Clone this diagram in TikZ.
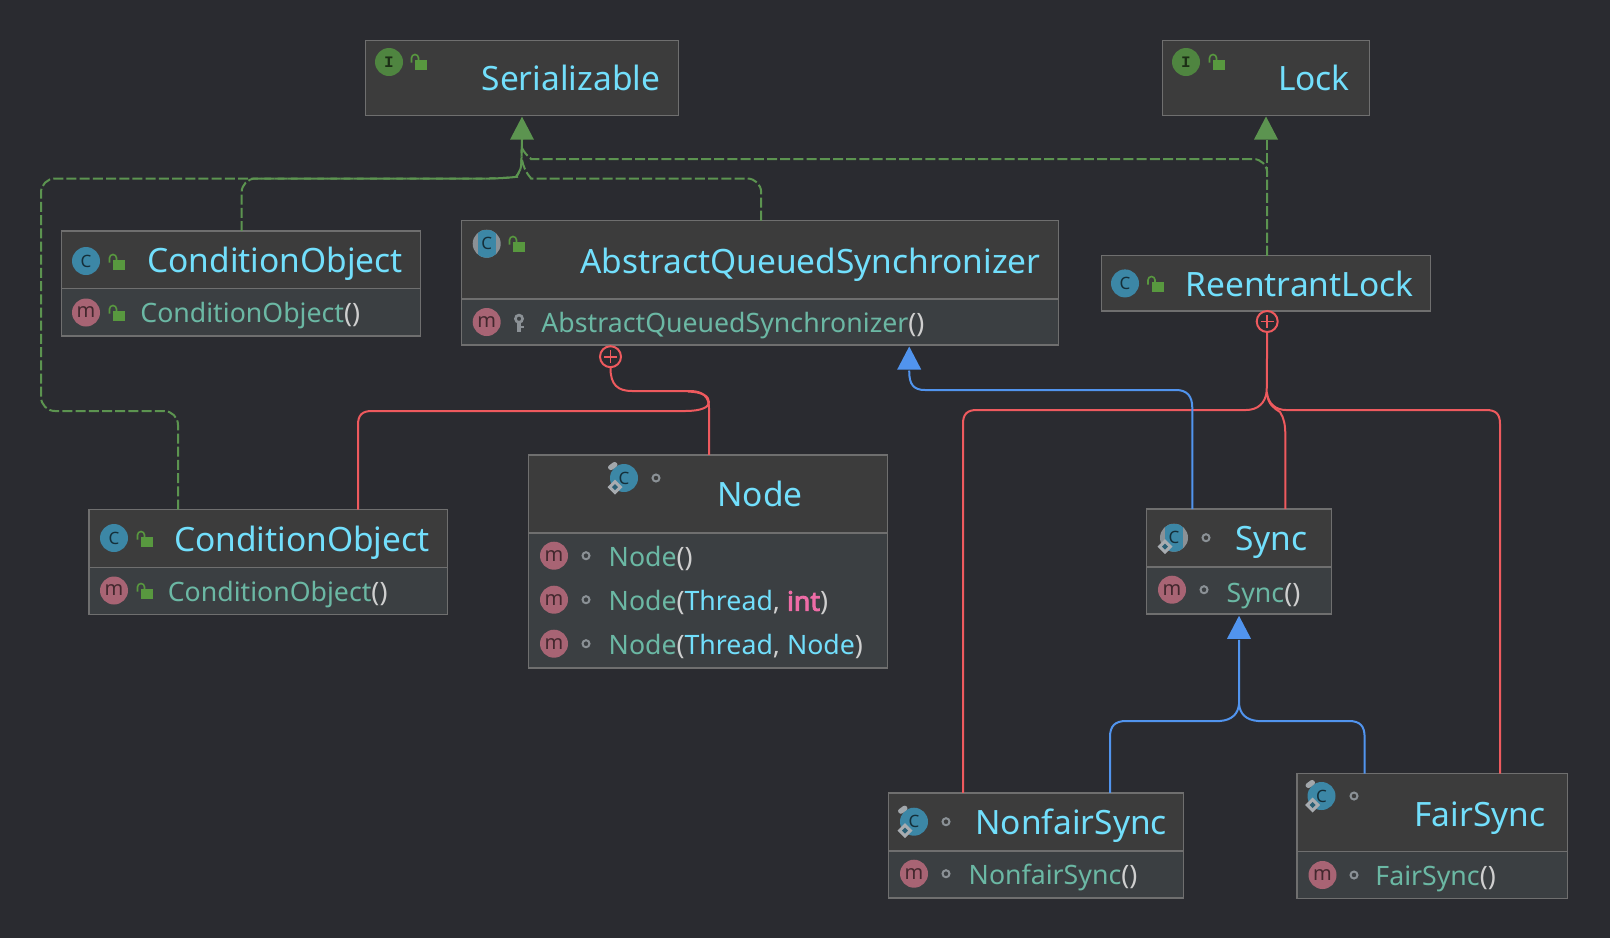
\documentclass[tikz,border=0pt]{standalone}
\usepackage{fontspec}
\setmainfont{Noto Sans}
\newfontfamily\iconmono{Liberation Mono}
\newfontface\intbold{Noto Sans}[FakeBold=3.5]
\usetikzlibrary{calc,arrows.meta}
\definecolor{bgc}{HTML}{2A2B30}
\definecolor{headc}{HTML}{3C3C3C}
\definecolor{membc}{HTML}{3B3F42}
\definecolor{bordc}{HTML}{6F6F6F}
\definecolor{titlec}{HTML}{72DFFC}
\definecolor{methc}{HTML}{6BB8A4}
\definecolor{parc}{HTML}{CFCFCF}
\definecolor{intc}{HTML}{EE6CA6}
\definecolor{redc}{HTML}{EE5A5E}
\definecolor{bluec}{HTML}{5194EE}
\definecolor{greenc}{HTML}{5C9450}
\definecolor{lockc}{HTML}{58983F}
\definecolor{tealc}{HTML}{3C87A6}
\definecolor{igreen}{HTML}{4F8540}
\definecolor{mred}{HTML}{A86474}
\definecolor{grayi}{HTML}{8B9196}
\tikzset{
  ubox/.style={rectangle,draw=bordc,line width=0.75pt,inner sep=0pt,outer sep=0pt},
  title/.style={anchor=base west,inner sep=0pt,text=titlec,xshift=-0.5pt,yshift=-0.25pt,font=\fontsize{16.75pt}{20pt}\selectfont},
  memb/.style={anchor=base west,inner sep=0pt,text=methc,xshift=-0.5pt,yshift=-0.35pt,font=\fontsize{13.35pt}{16pt}\selectfont},
  glyph/.style={inner sep=0pt,font=\fontsize{8.5pt}{10pt}\selectfont},
  dep/.style={draw=greenc,line width=1pt,dash pattern=on 5pt off 1.6pt,rounded corners=7pt},
  inh/.style={draw=bluec,line width=1pt},
  nest/.style={draw=redc,line width=1pt},
  plusc/.style={circle,draw=redc,line width=1pt,minimum size=10.5pt,inner sep=0pt},
}
\newcounter{gl}
\newcommand\headbox[5]{\node[ubox,fill=headc,minimum width={(#4-#2)*0.5pt},minimum height={(#5-#3)*0.5pt}] (#1) at ({(#2+#4)/2},{(#3+#5)/2}) {};}
\newcommand\membox[5]{\node[ubox,fill=membc,minimum width={(#4-#2)*0.5pt},minimum height={(#5-#3)*0.5pt}] (#1) at ({(#2+#4)/2},{(#3+#5)/2}) {};}
\newcommand\lockicon[1]{\begin{scope}[shift={(#1)}]
  \fill[lockc] (-4,-2.3) rectangle (8,7.7);
  \draw[lockc,line width=0.8pt] (-7.5,0.5) -- (-7.5,-4) arc (180:360:3.5) -- (-0.5,-2);
\end{scope}}
\newcommand\doticon[1]{\draw[grayi,line width=1pt] (#1) circle (3.5);}
\newcommand\keyicon[1]{\begin{scope}[shift={(#1)}]
  \draw[grayi,line width=1.3pt] (0,-4) circle (3.6);
  \fill[grayi] (-2,-1) rectangle (2,9);
  \fill[grayi] (1,3) rectangle (4.5,5.5);
\end{scope}}
\newcommand\glyphC[1]{\stepcounter{gl}\node[glyph,text=black!65!tealc] (gl\thegl) at (#1) {C};}
\newcommand\cicon[1]{\fill[tealc] (#1) circle (14);\glyphC{#1}}
\newcommand\acicon[1]{\fill[grayi] (#1) circle (14);
  \begin{scope}\clip (#1) circle (14);\fill[tealc] ($(#1)+(-9,-14)$) rectangle ($(#1)+(9,14)$);\end{scope}\glyphC{#1}}
\newcommand\pinmark[1]{\begin{scope}[shift={(#1)}]
  \fill[grayi!80!white,rounded corners=1.2pt] (-17,-11) -- (-9,-17) -- (-5.5,-13) -- (-13.5,-7) -- cycle;
\end{scope}}
\newcommand\diamark[1]{\begin{scope}[shift={(#1)}]
  \fill[grayi!75!white] (-9,1.5) -- (-1.5,9) -- (-9,16.5) -- (-16.5,9) -- cycle;
  \fill[tealc!70!black] (-9,6) -- (-6,9) -- (-9,12) -- (-12,9) -- cycle;
\end{scope}}
\newcommand\micon[1]{\fill[mred] (#1) circle (14);\stepcounter{gl}\node[glyph,text=black!60!mred,font=\fontsize{10pt}{10pt}\selectfont] (gl\thegl) at (#1) {m};}
\newcommand\iicon[1]{\fill[igreen] (#1) circle (14);\stepcounter{gl}\node[glyph,text=black!65!igreen,font=\iconmono\bfseries\fontsize{8pt}{10pt}\selectfont] (gl\thegl) at (#1) {I};}
\newcommand\pc[1]{\textcolor{parc}{#1}}
\newcommand\tc[1]{\textcolor{titlec}{#1}}
\begin{document}
\begin{tikzpicture}[x=0.5pt,y=-0.5pt]
\fill[bgc] (0,0) rectangle (1610,938);
\useasboundingbox (0,0) rectangle (1610,938);
% boxes
\headbox{ser}{365.3}{40.3}{678.7}{115.7}
\headbox{lck}{1162.5}{40.5}{1369.5}{115.5}
\headbox{cta}{61.6}{231}{420.4}{288.5}\membox{ctam}{61.6}{288.5}{420.4}{336}
\headbox{aqs}{461.5}{220.7}{1058.6}{299}\membox{aqsm}{461.5}{299}{1058.6}{345}
\headbox{ree}{1101.5}{255.7}{1430.5}{311}
\headbox{nod}{528.3}{454.8}{887.7}{533.2}\membox{nodm}{528.3}{533.2}{887.7}{667.8}
\headbox{ctb}{89}{509.5}{447.7}{567.5}\membox{ctbm}{89}{567.5}{447.7}{614.5}
\headbox{syn}{1146.7}{509}{1331.7}{567}\membox{synm}{1146.7}{567}{1331.7}{613.8}
\headbox{nfs}{888.3}{792.8}{1183.3}{850.8}\membox{nfsm}{888.3}{850.8}{1183.3}{898}
\headbox{fsy}{1297}{773.5}{1567.5}{851.5}\membox{fsym}{1297}{851.5}{1567.5}{898.5}
% titles
\node[title] (tser) at (482.3,90) {Serializable};
\node[title] (tlck) at (1278.6,90) {Lock};
\node[title] (tcta) at (148,272) {ConditionObject};
\node[memb] (mcta) at (141,322) {ConditionObject\pc{()}};
\node[title] (taqs) at (580.7,272.7) {AbstractQueuedSynchronizer};
\node[memb] (maqs) at (542,331.7) {AbstractQueuedSynchronizer\pc{()}};
\node[title] (tree) at (1186,295.5) {ReentrantLock};
\node[title] (tnod) at (718,506) {Node};
\node[memb] (mnod1) at (609.3,565.7) {Node\pc{()}};
\node[memb] (mnod2) at (609.3,610) {Node\pc{(}\tc{Thread}\pc{, }\textcolor{intc}{\intbold int}\pc{)}};
\node[memb] (mnod3) at (609.3,654) {Node\pc{(}\tc{Thread}\pc{, }\tc{Node}\pc{)}};
\node[title] (tctb) at (174.6,550.5) {ConditionObject};
\node[memb] (mctb) at (168.4,600.7) {ConditionObject\pc{()}};
\node[title] (tsyn) at (1235.7,550) {Sync};
\node[memb] (msyn) at (1227.3,601.7) {Sync\pc{()}};
\node[title] (tnfs) at (976,834) {NonfairSync};
\node[memb] (mnfs) at (969.3,884) {NonfairSync\pc{()}};
\node[title] (tfsy) at (1415,825.5) {FairSync};
\node[memb] (mfsy) at (1376,885) {FairSync\pc{()}};
% icons
\iicon{389,62}\lockicon{419,62}
\iicon{1186,62}\lockicon{1217,62}
\cicon{86,261}\lockicon{117,262}\micon{86,312.5}\lockicon{117,313}
\acicon{486.7,243.7}\lockicon{517,244}\micon{486.7,322}\keyicon{519,322.7}
\cicon{1125,283.4}\lockicon{1155.5,284}
\cicon{624,478}\pinmark{624,478}\diamark{624,478}\doticon{656,478}
\micon{554,555.7}\doticon{586,555.7}\micon{554,599.7}\doticon{586,599.7}\micon{554,643.7}\doticon{586,643.7}
\cicon{114,538}\lockicon{145,539}\micon{114,590.5}\lockicon{145,591}
\acicon{1174,537.7}\diamark{1174,537.7}\doticon{1206,537.7}\micon{1172,589.7}\doticon{1204,589.7}
\cicon{914,821.7}\pinmark{914,821.7}\diamark{914,821.7}\doticon{946,821.7}\micon{914,873.7}\doticon{946,873.7}
\cicon{1321.5,796}\pinmark{1321.5,796}\diamark{1321.5,796}\doticon{1354,796}\micon{1322.5,875}\doticon{1354,875}
% connector anchors
\coordinate (serBase) at ($(ser.south)+(0,24)$);
\coordinate (lckBase) at ($(lck.south)+(0,24)$);
\coordinate (ctaUp) at ($(cta.north west)+(180,0)$);
\coordinate (ctbUp) at ($(ctb.north west)+(89,0)$);
\coordinate (ctbRed) at ($(ctb.north west)+(269,0)$);
\coordinate (aqsUp) at ($(aqs.north west)+(299.7,0)$);
\coordinate (aqsPlus) at ($(aqsm.south west)+(149,11.7)$);
\coordinate (aqsTip) at ($(aqsm.south west)+(447.7,1.5)$);
\coordinate (aqsBase) at ($(aqsTip)+(0,24)$);
\coordinate (nodUp) at ($(nod.north west)+(180.7,0)$);
\coordinate (reeUp) at ($(ree.north west)+(165.7,0)$);
\coordinate (reePlus) at ($(ree.south west)+(165.7,10.5)$);
\coordinate (synBlue) at ($(syn.north west)+(45.6,0)$);
\coordinate (synRed) at ($(syn.north west)+(138.6,0)$);
\coordinate (synTip) at ($(synm.south west)+(92.3,2)$);
\coordinate (synBase) at ($(synTip)+(0,24)$);
\coordinate (nfsRed) at ($(nfs.north west)+(74.7,0)$);
\coordinate (nfsBlue) at ($(nfs.north west)+(221.7,0)$);
\coordinate (fsyRed) at ($(fsy.north west)+(203,0)$);
\coordinate (fsyBlue) at ($(fsy.north west)+(67.6,0)$);
\path (aqsPlus) ++(0,11) coordinate (aqsPlusB);
\path (reePlus) ++(0,11) coordinate (reePlusB);
% green dashed
\draw[dep] (reeUp) -- (reeUp |- 0,159) -- (545,159) .. controls (532,159) and (526,156) .. (522,148);
\draw[dep] (aqsUp) -- (aqsUp |- 0,178.5) -- (545,178.5) .. controls (532,178.5) and (525,174) .. (522,160);
\draw[dep] (ctaUp) -- (ctaUp |- 0,178.5) -- (503,178.5) .. controls (515,177) and (521,172) .. (521.8,150) -- (serBase);
\draw[dep] (ctbUp) -- (ctbUp |- 0,411) -- (41,411) -- (41,178.5) -- (503,178.5) .. controls (515,177) and (521,172) .. (521.8,150) -- (serBase);
\draw[dep] (reeUp) -- (reeUp |- lckBase);
\fill[greenc] (ser.south) ++(0,1) -- ++(12,23) -- ++(-24,0) -- cycle;
\fill[greenc] (lck.south) ++(0,1) -- ++(12,23) -- ++(-24,0) -- cycle;
% red
\draw[nest] (nodUp) -- (709,408) .. controls (709,397) and (703,391) .. (690,391) -- (632,391) .. controls (618,391) and (610.3,385) .. (aqsPlusB);
\draw[nest] (ctbRed) -- (358,425) .. controls (358,415) and (362,411) .. (372,411) -- (685,411) .. controls (702,411) and (709,407) .. (709,402) .. controls (709,396) and (702,392) .. (688,391.5);
\node[plusc] (pa) at (aqsPlus) {};
\draw[redc,line width=0.8pt] ($(pa)+(-6.5,0)$) -- ($(pa)+(6.5,0)$) ($(pa)+(0,-6.5)$) -- ($(pa)+(0,6.5)$);
\draw[nest] (reePlusB) -- (1266.7,392) .. controls (1265,403) and (1258,410) .. (1246,410) -- (977,410) .. controls (967,410) and (963,414) .. (963,424) -- (nfsRed);
\draw[nest] (1266.7,392) .. controls (1268,404) and (1276,410) .. (1286,410) -- (1486,410) .. controls (1496,410) and (1500,414) .. (1500,424) -- (fsyRed);
\draw[nest] (1266.7,392) .. controls (1268,405) and (1274,408) .. (1280,412) .. controls (1284,418) and (1285.3,425) .. (1285.3,435) -- (synRed);
\node[plusc] (pr) at (reePlus) {};
\draw[redc,line width=0.8pt] ($(pr)+(-6.5,0)$) -- ($(pr)+(6.5,0)$) ($(pr)+(0,-6.5)$) -- ($(pr)+(0,6.5)$);
% blue
\draw[inh] (synBlue) -- (1192.3,408) .. controls (1192.3,396) and (1187,390) .. (1176,390) -- (925,390) .. controls (914,390) and (909,385) .. (aqsBase);
\fill[bluec] (aqsTip) -- ++(12,23) -- ++(-24,0) -- cycle;
\draw[inh] (synBase) -- (1239,704) .. controls (1238,714) and (1232,720) .. (1220,721) -- (1126,721) .. controls (1115,721) and (1110,726) .. (1110,737) -- (nfsBlue);
\draw[inh] (1239,704) .. controls (1240,714) and (1246,720) .. (1258,721) -- (1349,721) .. controls (1360,721) and (1364.6,726) .. (1364.6,737) -- (fsyBlue);
\fill[bluec] (synTip) -- ++(12,23) -- ++(-24,0) -- cycle;
\end{tikzpicture}
\end{document}
